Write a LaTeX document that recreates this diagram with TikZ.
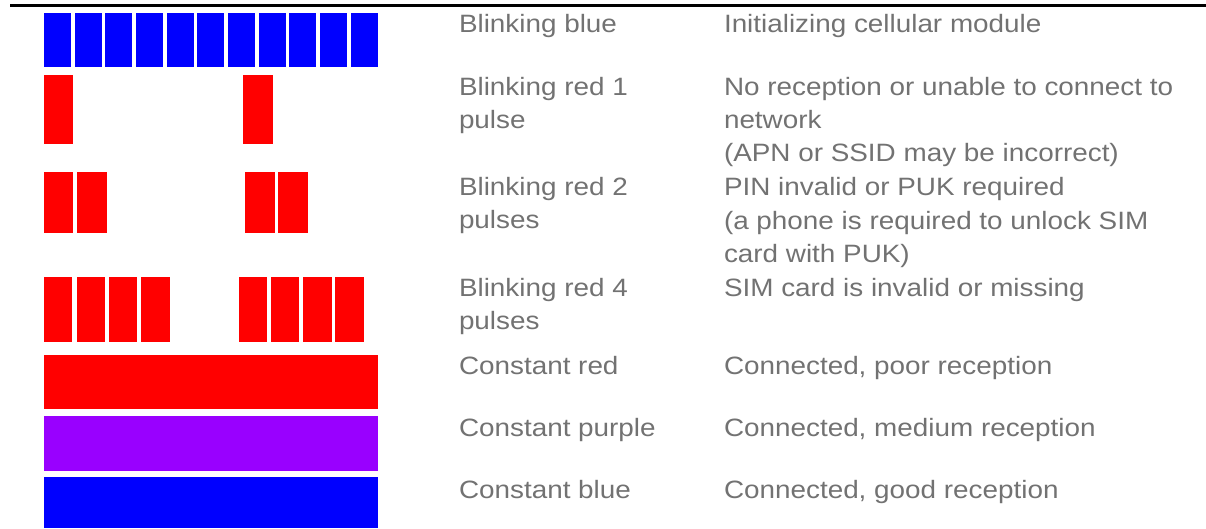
\documentclass[tikz,border=0pt]{standalone}
\usepackage{fontspec}
\setmainfont{Liberation Sans}[FakeStretch=1.11]
\definecolor{txtgray}{HTML}{727272}
\definecolor{ledblue}{HTML}{0000FF}
\definecolor{ledred}{HTML}{FF0000}
\definecolor{ledpurple}{HTML}{9900FF}
\tikzset{
  lbl/.style={anchor=base west, inner sep=0pt, outer sep=0pt, text=txtgray,
    font=\fontsize{25.1}{33}\selectfont},
  blueled/.style={fill=ledblue},
  redled/.style={fill=ledred},
  purpleled/.style={fill=ledpurple},
  rule/.style={draw=black, line width=3pt}
}
\begin{document}
\begin{tikzpicture}[x=1pt,y=-1pt]
\useasboundingbox (0,0) rectangle (1206,528);
% top rule
\draw[rule] (10,5) -- (1206,5);
% blinking blue
\foreach \i in {0,...,10}
  \fill[blueled] ({44+\i*30.67},12.7) rectangle +(27,54);
% blinking red 1 pulse
\fill[redled] (44,75) rectangle (73,143.7);
\fill[redled] (243,75) rectangle (272.7,143.7);
% blinking red 2 pulses
\foreach \a/\b in {44/73,77/107,245/274.7,278/308.3}
  \fill[redled] (\a,171.7) rectangle (\b,233);
% blinking red 4 pulses
\foreach \a/\b in {44/72.3,76.7/105,109/137,141.3/170,238.7/267,270.7/299,303/332,335.3/364}
  \fill[redled] (\a,277) rectangle (\b,341.7);
% constant
\fill[redled] (44,355) rectangle (378,409);
\fill[purpleled] (44,416) rectangle (378,471);
\fill[blueled] (44,477.3) rectangle (378,528);
% column 1
\node[lbl] (n1) at (459,32) {Blinking blue};
\node[lbl] (n2a) at (459,95) {Blinking red 1};
\node[lbl] (n2b) at (459,128) {pulse};
\node[lbl] (n3a) at (459,195) {Blinking red 2};
\node[lbl] (n3b) at (459,228.5) {pulses};
\node[lbl] (n4a) at (459,296) {Blinking red 4};
\node[lbl] (n4b) at (459,329) {pulses};
\node[lbl] (n5) at (459,374) {Constant red};
\node[lbl] (n6) at (459,436) {Constant purple};
\node[lbl] (n7) at (459,498) {Constant blue};
% column 2
\node[lbl] (d1) at (724,32) {Initializing cellular module};
\node[lbl] (d2a) at (724,95) {No reception or unable to connect to};
\node[lbl] (d2b) at (724,128) {network};
\node[lbl] (d2c) at (724,161) {(APN or SSID may be incorrect)};
\node[lbl] (d3a) at (724,195) {PIN invalid or PUK required};
\node[lbl] (d3b) at (724,229) {(a phone is required to unlock SIM};
\node[lbl] (d3c) at (724,262) {card with PUK)};
\node[lbl] (d4) at (724,296) {SIM card is invalid or missing};
\node[lbl] (d5) at (724,374) {Connected, poor reception};
\node[lbl] (d6) at (724,436) {Connected, medium reception};
\node[lbl] (d7) at (724,498) {Connected, good reception};
\end{tikzpicture}
\end{document}
